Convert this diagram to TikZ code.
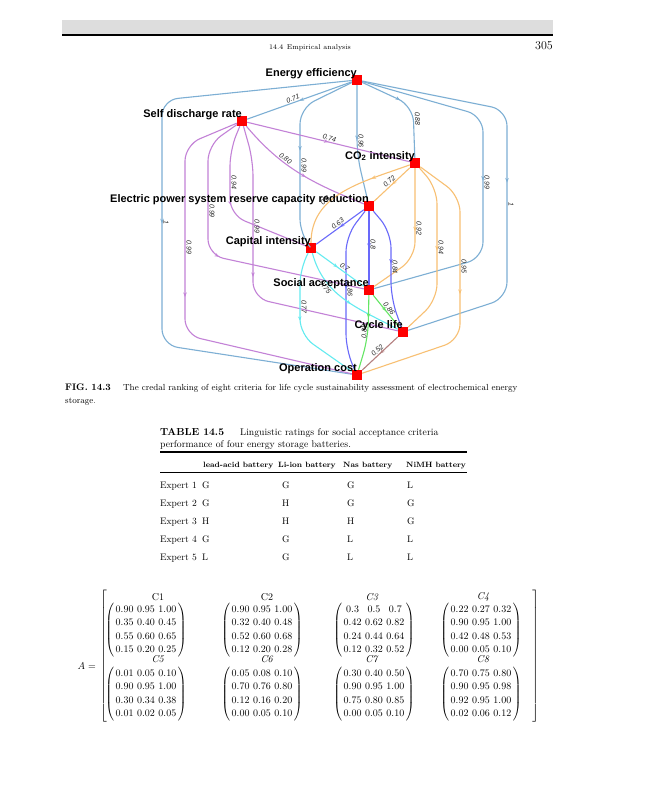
\documentclass[tikz,border=0pt]{standalone}
\usepackage{fontspec}
\usepackage{amsmath}
\newfontfamily\diagfont{Liberation Sans}
\usetikzlibrary{arrows.meta,decorations.markings}

\definecolor{HeadGrey}{RGB}{221,221,221}
\definecolor{EffBlue}{RGB}{125,175,212}
\definecolor{SelfPurple}{RGB}{195,130,215}
\definecolor{CarbonOrange}{RGB}{248,192,115}
\definecolor{GridBlue}{RGB}{105,105,250}
\definecolor{CapCyan}{RGB}{100,235,240}
\definecolor{SocGreen}{RGB}{100,230,100}
\definecolor{CycBrown}{RGB}{180,128,128}

\tikzset{
  crit/.style={rectangle, fill=red, minimum size=10pt, inner sep=0pt},
  critlab/.style={font=\diagfont\bfseries\fontsize{11}{13}\selectfont, inner sep=0pt, anchor=base east},
  wt/.style={font=\diagfont\itshape\fontsize{7}{8}\selectfont, sloped, inner sep=1pt, text=black!85},
  rel/.style={line width=1.1pt, rounded corners=16pt, postaction={decorate},
    decoration={markings, mark=at position #1 with {\arrow{Stealth[length=4.5pt,width=3.5pt]}}}},
  rel/.default=0.5,
  pagetxt/.style={inner sep=0pt, anchor=base west},
  tabtxt/.style={pagetxt, font=\fontsize{9.5}{11}\selectfont},
  tabhead/.style={pagetxt, font=\bfseries\fontsize{7.7}{9}\selectfont},
}

\newcommand{\critmat}[1]{{\arraycolsep=1.8pt\def\arraystretch{1.12}\delimiterfactor=850
  $\left(\begin{array}{@{\,}ccc@{\,}}#1\end{array}\right)$}}

\begin{document}
\begin{tikzpicture}[x=1pt, y=-1pt]
  \useasboundingbox (0,0) rectangle (648,800);
  \fill[white] (0,0) rectangle (648,800);

  % running head
  \fill[HeadGrey] (62,20) rectangle (553,34);
  \draw[line width=1.2pt] (62,35) -- (553,35);
  \node[anchor=base, inner sep=0pt, font=\fontsize{7}{8}\selectfont] (runhead) at (310,50) {14.4\enspace Empirical analysis};
  \node[anchor=base east, inner sep=0pt, font=\fontsize{12}{14}\selectfont] (pageno) at (553,49) {305};

  % criteria (red squares)
  \node[crit] (ee) at (357,80) {};
  \node[crit] (sd) at (242,121) {};
  \node[crit] (co) at (415,163) {};
  \node[crit] (eps) at (369,206) {};
  \node[crit] (ci) at (311,248) {};
  \node[crit] (sa) at (369,290) {};
  \node[crit] (cl) at (403,332) {};
  \node[crit] (oc) at (357,375) {};

  % energy efficiency
  \draw[rel, EffBlue] (ee) -- node[wt, above, pos=0.55] {0.71} (sd);
  \draw[rel=0.4, EffBlue] (ee) -- (413,106) -- node[wt, above, pos=0.25] {0.88} (co);
  \draw[rel=0.47, EffBlue] (ee) -- node[wt, above, pos=0.8] {0.96} (357,155) -- (eps);
  \draw[rel=0.48, EffBlue] (ee) -- (300,108) -- node[wt, above, pos=0.45] {0.99} (300,235) -- (ci);
  \draw[rel, EffBlue] (ee) -- (162,100) -- node[wt, above, pos=0.5] {1} (162,345) -- (oc);
  \draw[rel, EffBlue] (ee) -- (483,116) -- node[wt, above, pos=0.47] {0.99} (483,258) -- (sa);
  \draw[rel, EffBlue] (ee) -- (507,110) -- node[wt, above, pos=0.5] {1} (507,298) -- (cl);

  % self discharge rate
  \draw[rel, SelfPurple] (sd) -- node[wt, above] {0.74} (co);
  \draw[rel=0.55, SelfPurple] (sd) to[out=-50, in=158] node[wt, above, pos=0.35] {0.80} (eps);
  \draw[rel=0.48, SelfPurple] (sd) -- (230,150) -- node[wt, above, pos=0.5] {0.94} (230,215) -- (ci);
  \draw[rel, SelfPurple] (sd) -- (208,145) -- node[wt, above, pos=0.6] {0.99} (208,255) -- (sa);
  \draw[rel=0.48, SelfPurple] (sd) -- (253,160) -- node[wt, above, pos=0.48] {0.99} (253,298) -- (cl);
  \draw[rel, SelfPurple] (sd) -- (185,145) -- node[wt, above, pos=0.54] {0.99} (185,335) -- (oc);

  % CO2 intensity
  \draw[rel, CarbonOrange] (co) -- node[wt, above] {0.72} (eps);
  \draw[rel=0.3, CarbonOrange] (co) to[out=200, in=90] node[wt, above, pos=0.65] {0.8} (ci);
  \draw[rel=0.46, CarbonOrange] (co) -- node[wt, above, pos=0.67] {0.92} (415,258) -- (sa);
  \draw[rel, CarbonOrange] (co) -- (437,188) -- node[wt, above, pos=0.53] {0.94} (437,300) -- (cl);
  \draw[rel, CarbonOrange] (co) -- (460,196) -- node[wt, above, pos=0.49] {0.95} (460,340) -- (oc);

  % power system reserve
  \draw[rel, GridBlue] (eps) -- node[wt, above] {0.63} (ci);
  \draw[rel, GridBlue] (eps) -- node[wt, above, pos=0.45] {0.8} (sa);
  \draw[rel=0.47, GridBlue] (eps) -- (391,232) -- node[wt, above, pos=0.53] {0.84} (391,298) -- (cl);
  \draw[rel, GridBlue] (eps) -- (346,236) -- node[wt, above, pos=0.47] {0.86} (346,350) -- (oc);

  % capital intensity
  \draw[rel=0.45, CapCyan] (ci) -- node[wt, above, pos=0.55] {0.7} (sa);
  \draw[rel=0.55, CapCyan] (ci) to[out=-75, in=152] node[wt, below, pos=0.3] {0.75} (cl);
  \draw[rel=0.48, CapCyan] (ci) -- (300,268) -- node[wt, above, pos=0.58] {0.77} (300,335) -- (oc);

  % social acceptance, cycle life
  \draw[rel, SocGreen] (sa) -- node[wt, above] {0.86} (cl);
  \draw[rel=0.3, SocGreen] (sa) -- node[wt, above, pos=0.85] {0.88} (368,338) -- (oc);
  \draw[rel, CycBrown] (cl) -- node[wt, above] {0.52} (oc);

  % criterion names
  \node[critlab] (ee-l) at ([yshift=4pt]ee.center) {Energy efficiency};
  \node[critlab] (sd-l) at ([yshift=4pt]sd.center) {Self discharge rate};
  \node[critlab] (co-l) at ([yshift=4pt]co.center) {CO\textsubscript{2} intensity};
  \node[critlab] (eps-l) at ([yshift=4pt]eps.center) {Electric power system reserve capacity reduction};
  \node[critlab] (ci-l) at ([yshift=4pt]ci.center) {Capital intensity};
  \node[critlab] (sa-l) at ([yshift=4pt]sa.center) {Social acceptance};
  \node[critlab] (cl-l) at ([yshift=4pt]cl.center) {Cycle life};
  \node[critlab] (oc-l) at ([yshift=4pt]oc.center) {Operation cost};

  % figure caption
  \node[pagetxt, font=\bfseries\fontsize{9.5}{11}\selectfont] (figtag) at (65,390) {FIG. 14.3};
  \node[pagetxt, font=\fontsize{8.8}{10}\selectfont] (figcap) at (123,390) {The credal ranking of eight criteria for life cycle sustainability assessment of electrochemical energy};
  \node[pagetxt, font=\fontsize{8.8}{10}\selectfont] (figcap2) at (65,403) {storage.};

  % table 14.5
  \node[pagetxt, font=\bfseries\fontsize{10.2}{12}\selectfont] (tabtag) at (160,435) {TABLE 14.5};
  \node[pagetxt, font=\fontsize{9.7}{11}\selectfont] (tabcap) at (240,435) {Linguistic ratings for social acceptance criteria};
  \node[pagetxt, font=\fontsize{9.7}{11}\selectfont] (tabcap2) at (160,447) {performance of four energy storage batteries.};
  \draw[line width=1.1pt] (160,452) -- (467,452);
  \node[tabhead] (h1) at (203,467) {lead-acid battery};
  \node[tabhead] (h2) at (278,467) {Li-ion battery};
  \node[tabhead] (h3) at (343,467) {Nas battery};
  \node[tabhead] (h4) at (406,467) {NiMH battery};
  \draw[line width=0.4pt] (160,472) -- (467,472);
  \foreach \i/\a/\b/\c/\d in {1/G/G/G/L, 2/G/H/G/G, 3/H/H/H/G, 4/G/G/L/L, 5/L/G/L/L} {
    \node[tabtxt] (ex\i) at (160,488+18*\i-18) {Expert \i};
    \node[tabtxt] (la\i) at (202,488+18*\i-18) {\a};
    \node[tabtxt] (li\i) at (282,488+18*\i-18) {\b};
    \node[tabtxt] (na\i) at (347,488+18*\i-18) {\c};
    \node[tabtxt] (ni\i) at (407,488+18*\i-18) {\d};
  }

  % matrix A
  \node[anchor=base east, inner sep=0pt] (alab) at (96,669) {$A=$};
  \node[inner sep=0pt] (lbrk) at (104,657) {$\left[\rule[-66pt]{0pt}{132pt}\right.$};
  \node[inner sep=0pt] (rbrk) at (535,657) {$\left.\rule[-66pt]{0pt}{132pt}\right]$};
  \node (c1) at (158,597) {C1};
  \node (c2) at (267,597) {C2};
  \node (c3) at (372,597) {\textit{C3}};
  \node (c4) at (483,597) {\textit{C4}};
  \node (c5) at (158,659) {\textit{C5}};
  \node (c6) at (267,659) {\textit{C6}};
  \node (c7) at (372,659) {\textit{C7}};
  \node (c8) at (483,659) {\textit{C8}};
  \node[inner sep=0pt] (m1) at (146,630) {\critmat{0.90 & 0.95 & 1.00\\ 0.35 & 0.40 & 0.45\\ 0.55 & 0.60 & 0.65\\ 0.15 & 0.20 & 0.25}};
  \node[inner sep=0pt] (m2) at (262,630) {\critmat{0.90 & 0.95 & 1.00\\ 0.32 & 0.40 & 0.48\\ 0.52 & 0.60 & 0.68\\ 0.12 & 0.20 & 0.28}};
  \node[inner sep=0pt] (m3) at (374,630) {\critmat{0.3 & 0.5 & 0.7\\ 0.42 & 0.62 & 0.82\\ 0.24 & 0.44 & 0.64\\ 0.12 & 0.32 & 0.52}};
  \node[inner sep=0pt] (m4) at (481,630) {\critmat{0.22 & 0.27 & 0.32\\ 0.90 & 0.95 & 1.00\\ 0.42 & 0.48 & 0.53\\ 0.00 & 0.05 & 0.10}};
  \node[inner sep=0pt] (m5) at (146,694) {\critmat{0.01 & 0.05 & 0.10\\ 0.90 & 0.95 & 1.00\\ 0.30 & 0.34 & 0.38\\ 0.01 & 0.02 & 0.05}};
  \node[inner sep=0pt] (m6) at (262,694) {\critmat{0.05 & 0.08 & 0.10\\ 0.70 & 0.76 & 0.80\\ 0.12 & 0.16 & 0.20\\ 0.00 & 0.05 & 0.10}};
  \node[inner sep=0pt] (m7) at (374,694) {\critmat{0.30 & 0.40 & 0.50\\ 0.90 & 0.95 & 1.00\\ 0.75 & 0.80 & 0.85\\ 0.00 & 0.05 & 0.10}};
  \node[inner sep=0pt] (m8) at (481,694) {\critmat{0.70 & 0.75 & 0.80\\ 0.90 & 0.95 & 0.98\\ 0.92 & 0.95 & 1.00\\ 0.02 & 0.06 & 0.12}};
\end{tikzpicture}
\end{document}
